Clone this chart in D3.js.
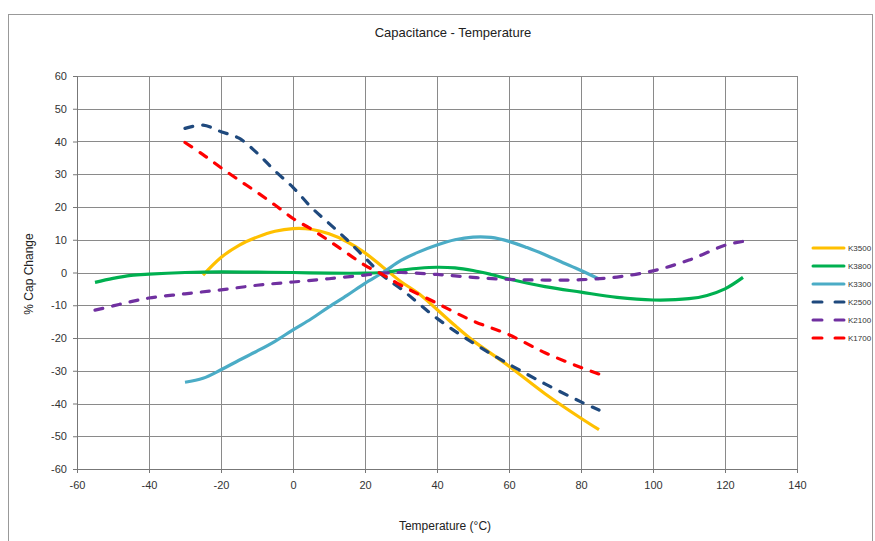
<!DOCTYPE html>
<html>
<head>
<meta charset="utf-8">
<script src="https://cdn.jsdelivr.net/npm/d3@7"></script>
<style>
  body { margin: 0; background: #fff; }
  svg { font-family: "Liberation Sans", Arial, sans-serif; }
</style>
</head>
<body>
<svg width="875" height="541"></svg>
<script>
const svg = d3.select("svg");

// DATA (temperature in °C, % cap change)
const k3500 = [[-25,-0.8],[-20,4.6],[-15,8.3],[-10,10.8],[-5,12.6],[0,13.4],[5,13.2],[10,11.8],[15,9.4],[20,6],[25,1.6],[30,-2.8],[35,-6.5],[40,-11.3],[45,-16.2],[50,-20.8],[60,-28.6],[70,-37],[80,-44.5],[85,-48]];
const k3800 = [[-55,-3],[-50,-1.8],[-45,-0.9],[-40,-0.5],[-30,0],[-20,0.2],[-10,0.1],[0,0],[10,-0.2],[20,-0.2],[25,0],[30,0.7],[35,1.3],[40,1.6],[45,1.4],[50,0.6],[55,-0.6],[60,-2],[70,-4.3],[80,-6],[90,-7.6],[100,-8.4],[110,-8],[115,-7],[120,-5],[125,-1.5]];
const k3300 = [[-30,-33.5],[-25,-32.3],[-20,-29.7],[-15,-26.8],[-10,-24],[-5,-21],[0,-17.5],[5,-14.2],[10,-10.5],[15,-7],[20,-3.3],[25,0],[30,3.7],[35,6.3],[40,8.4],[45,10],[50,10.8],[55,10.7],[60,9.5],[65,7.6],[70,5.4],[75,3],[80,0.6],[85,-2]];
const k2500 = [[-30,44],[-25,45],[-20,43],[-15,41],[-10,36.5],[-5,31],[0,26],[5,20],[10,15],[15,10],[20,4.5],[25,-1],[30,-5],[40,-14],[50,-21.5],[60,-28],[70,-34],[80,-39.5],[85,-42]];
const k2100 = [[-55,-11.5],[-50,-10.2],[-45,-8.9],[-40,-7.8],[-30,-6.5],[-20,-5.3],[-10,-3.9],[0,-2.9],[10,-1.9],[20,-0.8],[25,-0.2],[30,0],[40,-0.6],[50,-1.5],[60,-2.1],[70,-2.3],[80,-2.2],[90,-1.4],[100,0.5],[110,3.8],[120,8.3],[125,9.5]];
const k1700 = [[-30,39.7],[-25,36],[-20,32],[-15,28.2],[-10,24.5],[-5,20.6],[0,16.5],[5,13.3],[10,9.7],[15,5.9],[20,2.2],[25,-0.7],[30,-3.9],[40,-9.4],[50,-14.8],[60,-19],[70,-24.5],[80,-29],[85,-31]];

const seriesNames = ["K3500", "K3800", "K3300", "K2500", "K2100", "K1700"];
const seriesData = [k3500, k3800, k3300, k2500, k2100, k1700];
const seriesColors = ["#FFC000", "#00B050", "#4BACC6", "#1F497D", "#7030A0", "#FF0000"];
const seriesDashed = [false, false, false, true, true, true];

const xTicks = d3.range(-60, 141, 20);
const yTicks = d3.range(-60, 61, 10);

// CONSTANTS
const margin = { top: 76, left: 77, right: 78, bottom: 72 };
const plotW = 797 - margin.left;
const plotH = 469 - margin.top;

// SCALES
const xScale = d3.scaleLinear().domain([-60, 140]).range([0, plotW]);
const yScale = d3.scaleLinear().domain([-60, 60]).range([plotH, 0]);

// outer frame (cropped)
svg.append("rect")
  .attr("x", 8.5).attr("y", 14.5)
  .attr("width", 864).attr("height", 600)
  .attr("fill", "none").attr("stroke", "#999").attr("stroke-width", 1);

svg.append("text")
  .attr("x", 453).attr("y", 37)
  .attr("text-anchor", "middle")
  .attr("font-size", 13).attr("fill", "#222")
  .text("Capacitance - Temperature");

const g = svg.append("g").attr("transform", `translate(${margin.left},${margin.top})`);

// grid
g.append("g").selectAll("line").data(yTicks).join("line")
  .attr("x1", 0).attr("x2", plotW)
  .attr("y1", d => Math.round(yScale(d)) + 0.5).attr("y2", d => Math.round(yScale(d)) + 0.5)
  .attr("stroke", "#8a8a8a").attr("stroke-width", 1);
g.append("g").selectAll("line").data(xTicks).join("line")
  .attr("y1", 0).attr("y2", plotH)
  .attr("x1", d => Math.round(xScale(d)) + 0.5).attr("x2", d => Math.round(xScale(d)) + 0.5)
  .attr("stroke", "#8a8a8a").attr("stroke-width", 1);

// axes (plain hyphen for negatives, like the original)
const fmt = d => String(d);
const xAxis = d3.axisBottom(xScale).tickValues(xTicks).tickFormat(fmt).tickSize(4).tickPadding(8);
const yAxis = d3.axisLeft(yScale).tickValues(yTicks).tickFormat(fmt).tickSize(4).tickPadding(6);

const gx = g.append("g").attr("transform", `translate(0,${plotH})`).call(xAxis);
const gy = g.append("g").call(yAxis);
[gx, gy].forEach(a => {
  a.select(".domain").attr("stroke", "#777");
  a.selectAll(".tick line").attr("stroke", "#777");
  a.selectAll("text").attr("font-size", 11).attr("fill", "#333")
    .attr("font-family", "'Liberation Sans', Arial, sans-serif");
});

// lines
const line = d3.line()
  .x(d => xScale(d[0]))
  .y(d => yScale(d[1]))
  .curve(d3.curveCatmullRom.alpha(0.5));

g.append("g").selectAll("path").data(seriesData).join("path")
  .attr("d", line)
  .attr("fill", "none")
  .attr("stroke", (d, i) => seriesColors[i])
  .attr("stroke-width", 3.2)
  .attr("stroke-linecap", (d, i) => seriesDashed[i] ? "round" : "butt")
  .attr("stroke-dasharray", (d, i) => seriesDashed[i] ? "8,10" : null);

// axis titles
svg.append("text")
  .attr("x", 445).attr("y", 530)
  .attr("text-anchor", "middle")
  .attr("font-size", 12).attr("fill", "#222")
  .text("Temperature (°C)");

svg.append("text")
  .attr("transform", "translate(33,274) rotate(-90)")
  .attr("text-anchor", "middle")
  .attr("font-size", 12).attr("fill", "#222")
  .text("% Cap Change");

// legend
const legend = svg.append("g").attr("transform", "translate(812,248)");
const items = legend.selectAll("g").data(seriesNames).join("g")
  .attr("transform", (d, i) => `translate(0,${i * 18})`);
items.append("line")
  .attr("x1", 1).attr("x2", 32).attr("y1", 0).attr("y2", 0)
  .attr("stroke", (d, i) => seriesColors[i])
  .attr("stroke-width", 3)
  .attr("stroke-linecap", "round")
  .attr("stroke-dasharray", (d, i) => seriesDashed[i] ? "9,13" : null);
items.append("text")
  .attr("x", 36).attr("y", 3)
  .attr("font-size", 8).attr("fill", "#333")
  .text(d => d);
</script>
</body>
</html>
